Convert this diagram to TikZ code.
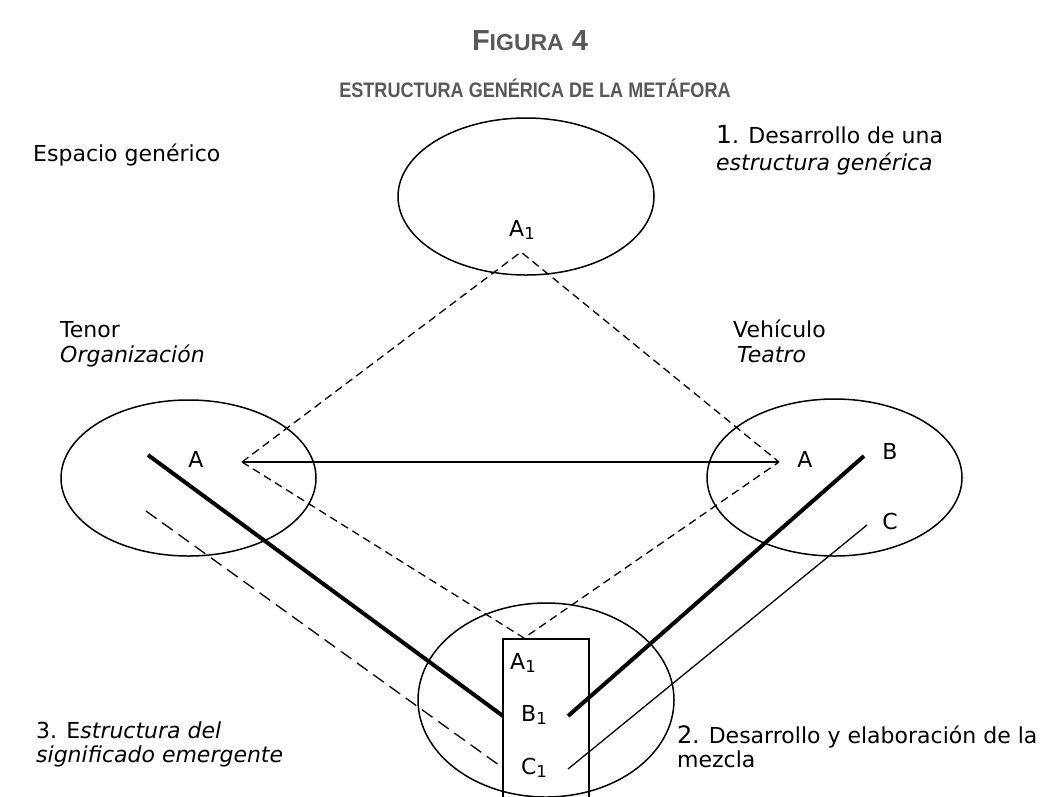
\documentclass[tikz,border=0pt]{standalone}
\usepackage{fontspec}
\setmainfont{DejaVu Sans}
\newfontfamily\headfont[FakeStretch=0.86]{Liberation Sans}
\newfontfamily\figfont{Liberation Sans}
\usetikzlibrary{shapes.geometric}
\definecolor{titlegray}{RGB}{88,88,88}
\newcommand\lowidx[1]{\raisebox{-0.18em}{\fontsize{16.5}{16.5}\selectfont #1}}
\begin{document}
\begin{tikzpicture}[x=1pt,y=-1pt,
  ell/.style={draw, ellipse, line width=1.5pt, inner sep=0pt},
  txt/.style={anchor=base west, inner sep=0pt, font=\fontsize{22}{26}\selectfont},
  lbl/.style={anchor=base, inner sep=0pt, font=\fontsize{22}{26}\selectfont},
  dsh/.style={line width=1.3pt, dash pattern=on 8pt off 5pt},
  ldsh/.style={line width=1.3pt, dash pattern=on 13pt off 7pt},
  heavy/.style={line width=4pt},
  fine/.style={line width=1.3pt},
  ttl/.style={anchor=base, inner sep=0pt, text=titlegray, font=\figfont\bfseries\fontsize{29}{32}\selectfont},
  subttl/.style={anchor=base, inner sep=0pt, text=titlegray, font=\headfont\bfseries\fontsize{21}{24}\selectfont}]
\useasboundingbox (0,0) rectangle (1059,796);
\clip (0,0) rectangle (1059,796);
% titles
\node[ttl] (fig) at (530,50) {F{\fontsize{23}{26}\selectfont IGURA} 4};
\node[subttl] (sub) at (535,97) {ESTRUCTURA GENÉRICA DE LA METÁFORA};
% ellipses
\node[ell, minimum width=256pt, minimum height=157pt] (gen) at (526,196.5) {};
\node[ell, minimum width=255pt, minimum height=156pt] (ten) at (188.5,478) {};
\node[ell, minimum width=255pt, minimum height=157pt] (veh) at (834.5,477.5) {};
\node[ell, minimum width=256pt, minimum height=194pt] (mez) at (546,700) {};
\node[draw, line width=1.5pt, minimum width=86pt, minimum height=190pt, anchor=north, inner sep=0pt] (box) at (546,638) {};
% points
\coordinate (apex) at (521,252);
\coordinate (lA) at (242,462);
\coordinate (rA) at (779,462);
\coordinate (bot) at (524,638);
\coordinate (lthickS) at (148,455);
\coordinate (lthickE) at (503,716);
\coordinate (rthickS) at (568,716);
\coordinate (rthickE) at (864,456);
\coordinate (rthinS) at (568,769);
\coordinate (rthinE) at (867,525);
\coordinate (ldashS) at (146,511);
\coordinate (ldashE) at (503,768);
% connectors
\draw[dsh] (lA) -- (apex) -- (rA);
\draw[dsh] (lA) -- (bot) -- (rA);
\draw[fine, line width=1.5pt] (lA) -- (rA);
\draw[heavy] (lthickS) -- (lthickE);
\draw[heavy] (rthickS) -- (rthickE);
\draw[fine] (rthinS) -- (rthinE);
\draw[ldsh] (ldashS) -- (ldashE);
% letters
\node[lbl] (tA1) at (522,236) {A\lowidx{1}};
\node[lbl] (la) at (196,467) {A};
\node[lbl] (ra) at (805,467) {A};
\node[lbl] (rb) at (890,459) {B};
\node[lbl] (rc) at (890,529) {C};
\node[lbl] (bA1) at (523,669) {A\lowidx{1}};
\node[lbl] (bB1) at (534,721) {B\lowidx{1}};
\node[lbl] (bC1) at (534,774) {C\lowidx{1}};
% texts
\node[txt] (esp) at (33,161) {Espacio genérico};
\node[txt] (d1a) at (716,143) {{\fontsize{25}{25}\selectfont 1}. Desarrollo de una};
\node[txt] (d1b) at (716,170) {\itshape estructura genérica};
\node[txt] (tenA) at (60,337) {Tenor};
\node[txt] (tenB) at (60,362) {\itshape Organización};
\node[txt] (vehA) at (733,337) {Vehículo};
\node[txt] (vehB) at (737,362) {\itshape Teatro};
\node[txt] (e3a) at (36,738) {3. E\textit{structura del}};
\node[txt] (e3b) at (36,762) {\itshape significado emergente};
\node[txt] (m2a) at (677,743) {{\fontsize{24}{24}\selectfont 2}. Desarrollo y elaboración de la};
\node[txt] (m2b) at (677,767) {mezcla};
\end{tikzpicture}
\end{document}
